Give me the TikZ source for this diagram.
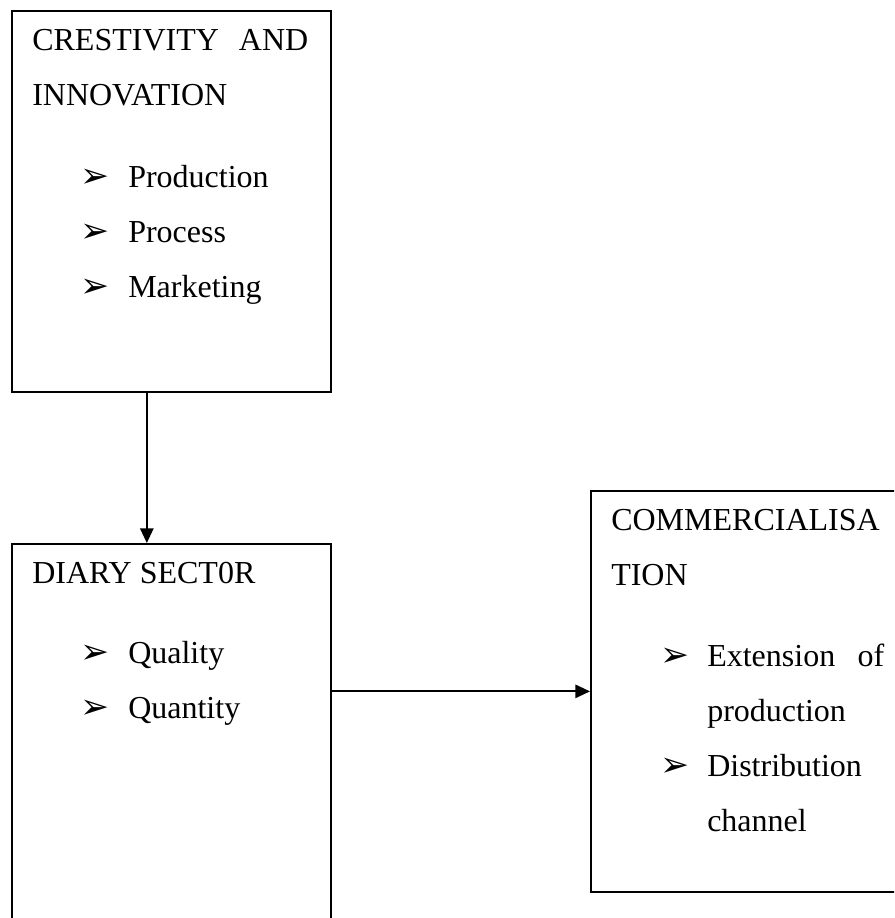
\documentclass[tikz,border=0pt]{standalone}
\usepackage{fontspec}
\setmainfont{Liberation Serif}
\newfontfamily\dejavu{DejaVu Sans}
\usepackage{tikz}
\usetikzlibrary{arrows.meta}

\begin{document}
\begin{tikzpicture}[x=0.75pt, y=-0.75pt, >={Triangle[width=10pt,length=11pt]}]
\tikzstyle{box} = [draw=black, line width=1.3pt, rectangle, inner sep=0pt, anchor=north west]
\tikzstyle{txt} = [anchor=base west, inner sep=0pt, font=\fontsize{24}{24}\selectfont]
\tikzstyle{bul} = [anchor=base west, inner sep=0pt, font=\fontsize{26}{26}\dejavu]
\tikzstyle{link} = [->, draw=black, line width=1.4pt]

\useasboundingbox (0,0) rectangle (894,918);
\clip (0,0) rectangle (894,918);

\node[box, minimum width=239.25pt, minimum height=285.75pt] (creat) at (11,10) {};
\node[box, minimum width=239.25pt, minimum height=305.25pt] (diary) at (11,543) {};
\node[box, minimum width=247.5pt, minimum height=300.75pt] (comm) at (590,490) {};

% creativity box
\node[txt] (creatA) at ([shift={(21,40)}]creat.north west) {\makebox[207pt][s]{CRESTIVITY AND}};
\node[txt] (creatB) at ([shift={(21,95)}]creat.north west) {INNOVATION};
\node[bul] (bprod) at ([shift={(69,177)}]creat.north west) {➢};
\node[bul] (bproc) at ([shift={(69,232)}]creat.north west) {➢};
\node[bul] (bmark) at ([shift={(69,287)}]creat.north west) {➢};
\node[txt] (prod) at ([shift={(117,177)}]creat.north west) {Production};
\node[txt] (proc) at ([shift={(117,232)}]creat.north west) {Process};
\node[txt] (mark) at ([shift={(117,287)}]creat.north west) {Marketing};

% diary box
\node[txt] (diaryA) at ([shift={(21,40)}]diary.north west) {DIARY SECT0R};
\node[bul] (bqual) at ([shift={(69,120)}]diary.north west) {➢};
\node[bul] (bquan) at ([shift={(69,175)}]diary.north west) {➢};
\node[txt] (qual) at ([shift={(117,120)}]diary.north west) {Quality};
\node[txt] (quan) at ([shift={(117,175)}]diary.north west) {Quantity};

% commercialisation box
\node[txt] (commA) at ([shift={(21,40)}]comm.north west) {COMMERCIALISA};
\node[txt] (commB) at ([shift={(21,95)}]comm.north west) {TION};
\node[bul] (bext) at ([shift={(70,176)}]comm.north west) {➢};
\node[bul] (bdist) at ([shift={(70,286)}]comm.north west) {➢};
\node[txt] (extA) at ([shift={(117,176)}]comm.north west) {\makebox[132.75pt][s]{Extension of}};
\node[txt] (extB) at ([shift={(117,231)}]comm.north west) {production};
\node[txt] (distA) at ([shift={(117,286)}]comm.north west) {Distribution};
\node[txt] (distB) at ([shift={(117,341)}]comm.north west) {channel};

\draw[link] ([xshift=-18.4pt]creat.south) -- ([xshift=-18.4pt]diary.north);
\draw[link] (diary.east |- comm.west) -- (comm.west);

\end{tikzpicture}
\end{document}
